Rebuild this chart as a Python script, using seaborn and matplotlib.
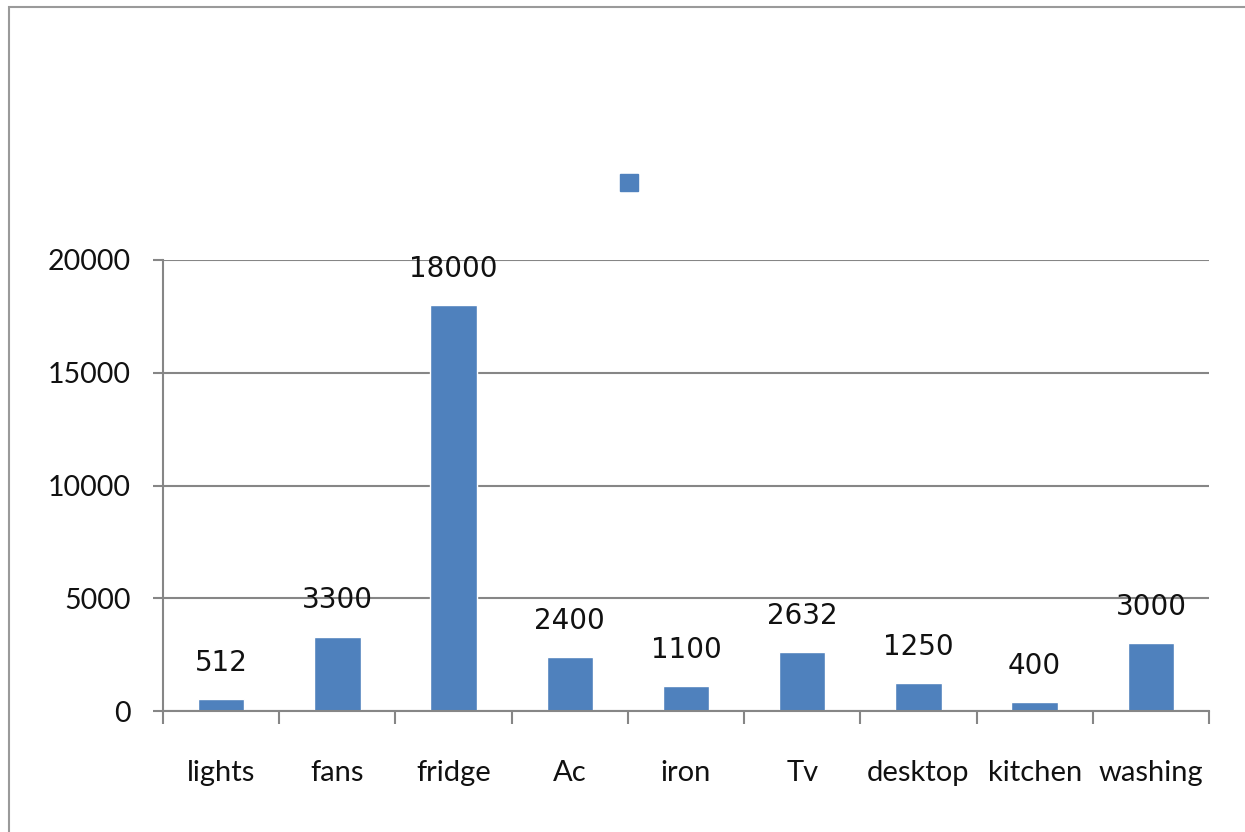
import matplotlib
matplotlib.use("Agg")
import matplotlib.pyplot as plt
from matplotlib.patches import Patch, Rectangle
import seaborn as sns
import pandas as pd
import numpy as np

# data
appliances = ["lights", "fans", "fridge", "Ac", "iron", "Tv", "desktop", "kitchen", "washing"]
watts = [512, 3300, 18000, 2400, 1100, 2632, 1250, 400, 3000]
y_ticks = [0, 5000, 10000, 15000, 20000]

bar_color = "#4F81BD"
grid_color = "#868686"

df = pd.DataFrame({"appliance": appliances, "watts": watts})

sns.set_style("white")
plt.rcParams["font.family"] = ["Lato", "DejaVu Sans"]

fig = plt.figure(figsize=(12.45, 8.32), dpi=100)
ax = fig.add_axes([163 / 1245, 121 / 832, (1209 - 163) / 1245, (711 - 260) / 832])

sns.barplot(data=df, x="appliance", y="watts", color=bar_color, width=0.4,
            saturation=1, ax=ax, zorder=3)

ax.set_xlim(-0.5, len(appliances) - 0.5)
ax.set_ylim(0, 20000)
ax.set_yticks(y_ticks)
ax.set_yticklabels([str(t) for t in y_ticks])
ax.yaxis.grid(True, color=grid_color, linewidth=1.5, zorder=0)
ax.set_xlabel("")
ax.set_ylabel("")

# tick marks at category boundaries, labels centred
ax.set_xticks(np.arange(len(appliances)))
ax.set_xticklabels(appliances)
ax.set_xticks(np.arange(len(appliances) + 1) - 0.5, minor=True)
ax.tick_params(axis="x", which="major", length=0, pad=35, labelsize=21, labelcolor="#111111")
ax.tick_params(axis="x", which="minor", length=9, width=1.5, color=grid_color, direction="out", bottom=True)
ax.tick_params(axis="y", length=7, width=1.5, color=grid_color, direction="out", left=True,
               pad=16, labelsize=20.5, labelcolor="#111111")

for side in ["top", "right"]:
    ax.spines[side].set_visible(False)
for side in ["left", "bottom"]:
    ax.spines[side].set_color(grid_color)
    ax.spines[side].set_linewidth(1.5)
    ax.spines[side].set_zorder(4)

# value labels above bars
for i, v in enumerate(watts):
    ax.annotate(str(v), (i, v), xytext=(0, 26), textcoords="offset points",
                ha="center", va="center", fontsize=20, family="DejaVu Sans", color="#111111")

# lone legend square with no text
fig.legend(handles=[Patch(facecolor=bar_color, edgecolor=bar_color)], labels=[""],
           loc="center", bbox_to_anchor=(629 / 1245, 1 - 183 / 832), frameon=False,
           fontsize=13, handlelength=1, handleheight=1, handletextpad=0, borderpad=0,
           borderaxespad=0)

# chart area border
fig.patches.append(Rectangle((9 / 1245, -0.2), 1.5, 1 - 7 / 832 + 0.2, transform=fig.transFigure,
                             fill=False, edgecolor="#9A9A9A", linewidth=1.5))

fig.savefig("out.png", dpi=100)
